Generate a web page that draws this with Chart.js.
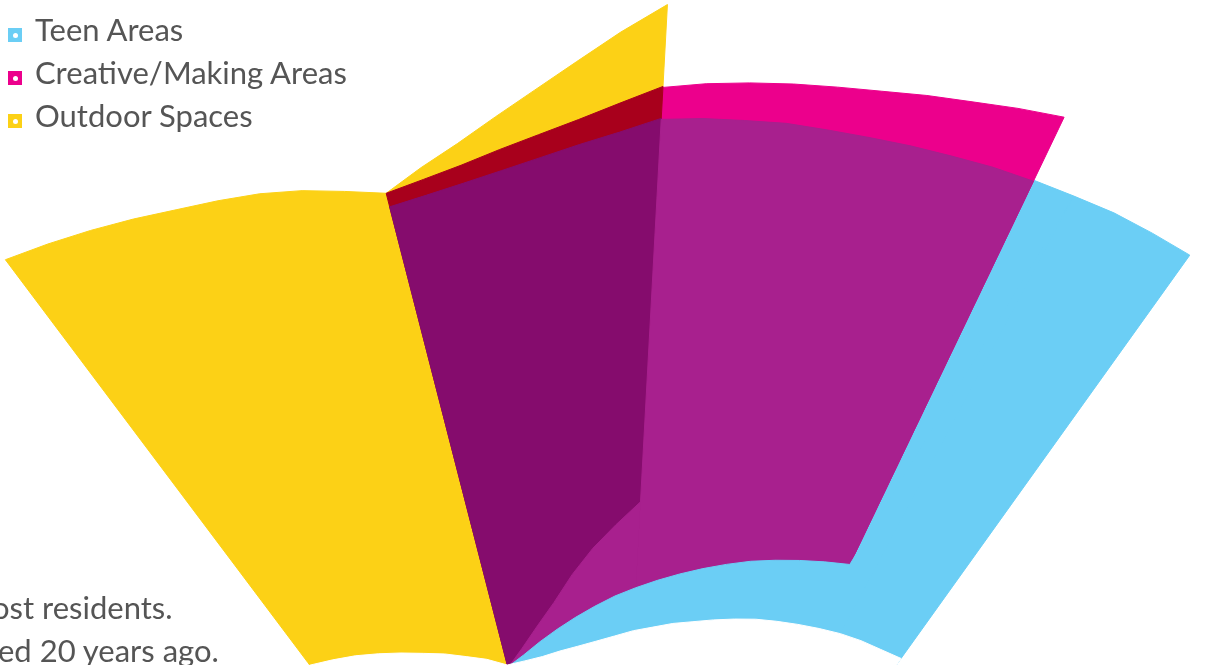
<!DOCTYPE html>
<html>
<head>
<meta charset="utf-8">
<script src="https://cdn.jsdelivr.net/npm/chart.js@4.4.1/dist/chart.umd.min.js"></script>
<style>
html,body{margin:0;padding:0;width:1209px;height:665px;overflow:hidden;background:#ffffff;font-family:Lato,"Open Sans",sans-serif;}
#wrap{position:absolute;left:-490px;top:-35px;width:2200px;height:2200px;}
#legend{position:absolute;left:0;top:0;}
.sw{position:absolute;left:8px;width:14px;height:14px;}
.sw i{position:absolute;left:4.5px;top:4.5px;width:5px;height:5px;border-radius:50%;background:#fff;}
.lab{position:absolute;left:35px;font-size:31px;line-height:43px;color:#555555;white-space:nowrap;}
.note{position:absolute;font-size:31px;line-height:43px;color:#555555;white-space:nowrap;}
</style>
</head>
<body>
<div id="wrap"><canvas id="c" width="2200" height="2200"></canvas></div>
<div id="legend"></div>
<div id="notes"></div>
<script>
// ---- data: radius of each band edge, read every 2.5 degrees across the fan (k0..k29, left to right) ----
const spokeCount = 144;            // 2.5 degree spokes round the full circle
const fanStart = -36.9;            // angle of spoke k0, 0 = straight up
const outdoorSpaces = [1007,995,983,971,959,949,939,927,913,900,917,934,955,978,1004,1033,1062,0,0,0,0,0,0,0,0,0,0,0,0,0];
const overlapRed    = [0,0,0,0,0,0,0,0,0,900,905,912,922,933,946,962,980,0,0,0,0,0,0,0,0,0,0,0,0,0];
const overlapDeep   = [0,0,0,0,0,0,0,0,0,886,889,894,901,910,921,933,948,0,0,0,0,0,0,0,0,0,0,0,0,0];
const creativeMaking= [0,0,0,0,0,0,0,0,0,0,0,0,0,0,0,0,979,986,992,998,1004,1011,1020,1029,1040,1051,0,0,0,0];
const purpleUpper   = [0,0,0,0,0,0,0,0,0,0,0,0,0,0,0,0,947,951,954,958,960,963,967,971,976,980,0,0,0,0];
const purpleLower   = [0,0,0,0,0,0,0,0,0,410,426,445,466,492,517,540,564,0,0,0,0,0,0,0,0,0,0,0,0,0];
const teenBand      = [0,0,0,0,0,0,0,0,0,411,419,429,439,449,459,469,478,487,496,505,514,523,531,539,547,555,985,0,0,0];
const teenAreas     = [0,0,0,0,0,0,0,0,0,0,0,0,0,0,0,0,0,0,0,0,0,0,0,0,0,981,985,990,993,996];
const innerGap      = [500,491,482,472,462,452,443,433,424,413,413,414,417,420,424,429,435,440,446,451,457,463,469,474,479,484,489,493,496,500];
const scaleMax = 1100;

const legendNames  = ['Teen Areas', 'Creative/Making Areas', 'Outdoor Spaces'];
const legendColors = ['#6BCEF5', '#EC008C', '#FCD116'];
const noteLines = ['ost residents.', 'ed 20 years ago.'];

// ---- chart ----
const pad = arr => arr.concat(new Array(spokeCount - arr.length).fill(0));
const ds = (label, data, color) => ({
  label, data: pad(data), backgroundColor: color, borderColor: color, borderWidth: 1,
  borderJoinStyle: 'round', fill: 'origin', pointRadius: 0, pointHoverRadius: 0, tension: 0
});

new Chart(document.getElementById('c'), {
  type: 'radar',
  data: {
    labels: new Array(spokeCount).fill(''),
    datasets: [
      ds('inner', innerGap, '#ffffff'),
      ds('Teen band', teenBand, '#6BCEF5'),
      ds('purple lower', purpleLower, '#A8208E'),
      ds('purple upper', purpleUpper, '#A8208E'),
      ds('overlap deep', overlapDeep, '#850C6D'),
      ds('overlap red', overlapRed, '#A8001C'),
      ds('Creative/Making Areas', creativeMaking, '#EC008C'),
      ds('Teen Areas', teenAreas, '#6BCEF5'),
      ds('Outdoor Spaces', outdoorSpaces, '#FCD116')
    ]
  },
  options: {
    responsive: false,
    animation: false,
    devicePixelRatio: 1,
    layout: {padding: 0},
    plugins: {legend: {display: false}, tooltip: {enabled: false}},
    scales: {
      r: {
        display: false, min: 0, max: scaleMax, startAngle: fanStart,
        ticks: {display: false}, grid: {display: false}, angleLines: {display: false},
        pointLabels: {display: false}
      }
    }
  }
});

// ---- legend ----
const leg = document.getElementById('legend');
legendNames.forEach((n, i) => {
  const base = 42 + i * 43;
  const sw = document.createElement('div');
  sw.className = 'sw';
  sw.style.top = (base - 14) + 'px';
  sw.style.background = legendColors[i];
  sw.appendChild(document.createElement('i'));
  leg.appendChild(sw);
  const t = document.createElement('div');
  t.className = 'lab';
  t.style.top = (base - 34) + 'px';
  t.textContent = n;
  leg.appendChild(t);
});

// ---- notes ----
const notes = document.getElementById('notes');
noteLines.forEach((s, i) => {
  const d = document.createElement('div');
  d.className = 'note';
  d.style.left = (i === 0 ? -8 : -2) + 'px';
  d.style.top = (620 + i * 43 - 34) + 'px';
  d.textContent = s;
  notes.appendChild(d);
});
</script>
</body>
</html>
